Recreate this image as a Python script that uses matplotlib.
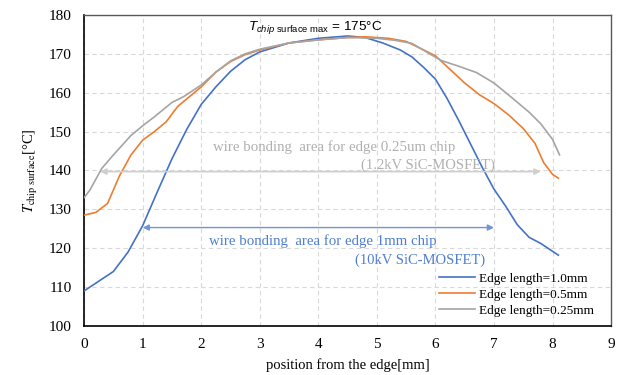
import matplotlib
matplotlib.use('Agg')
import matplotlib.pyplot as plt

# temperature profiles along the chip
x_10 = [0, 0.25, 0.5, 0.75, 1.0, 1.25, 1.5, 1.75, 2.0, 2.25, 2.5, 2.75, 3.0, 3.5, 4.0, 4.5,
        4.8, 5.1, 5.4, 5.6, 5.8, 6.0, 6.2, 6.4, 6.6, 6.8, 7.0, 7.2, 7.4, 7.6, 7.8, 8.1]
t_10 = [109, 111.5, 114, 119, 125.8, 134.5, 143, 150.5, 157, 161.5, 165.5, 168.5, 170.5, 172.8,
        174, 174.6, 174.2, 172.8, 171, 169.2, 166.5, 163.5, 158.5, 152.8, 146.8, 140.8, 135.2,
        130.8, 126, 122.8, 121.2, 118.2]

x_05 = [0, 0.2, 0.4, 0.6, 0.8, 1.0, 1.2, 1.4, 1.6, 1.8, 2.0, 2.25, 2.5, 2.75, 3.0, 3.5, 4.0,
        4.5, 4.8, 5.2, 5.5, 5.8, 6.0, 6.25, 6.5, 6.75, 7.0, 7.25, 7.5, 7.7, 7.85, 8.0, 8.1]
t_05 = [128.5, 129.2, 131.5, 138.5, 144, 147.8, 150, 152.5, 156.5, 159, 161.5, 165.3, 168,
        169.8, 171, 172.8, 173.6, 174.2, 174.4, 174, 173.2, 171, 169.5, 166, 162.5, 159.5,
        157.2, 154.3, 150.8, 147, 142, 139, 138]

x_025 = [0, 0.1, 0.3, 0.5, 0.8, 1.0, 1.2, 1.5, 1.7, 2.0, 2.25, 2.5, 2.75, 3.0, 3.5, 4.0, 4.5,
         5.0, 5.3, 5.6, 5.9, 6.1, 6.4, 6.7, 7.0, 7.3, 7.6, 7.8, 8.0, 8.12]
t_025 = [133, 135, 140.5, 144, 149, 151.5, 153.8, 157.5, 159, 162, 165.3, 168.2, 170, 171.2,
         172.8, 173.6, 174.2, 174, 173.5, 172.7, 170, 168.3, 166.8, 165.2, 162.5, 158.8, 155,
         152, 148, 144]

labels = ['Edge length=1.0mm', 'Edge length=0.5mm', 'Edge length=0.25mm']
colors = ['#4472C4', '#ED7D31', '#A5A5A5']

# wire bonding areas (start, end, y level)
area_025 = (0.27, 7.8, 139.7)
area_10 = (1.0, 7.0, 125.3)

plt.rcParams['font.family'] = ['Liberation Serif', 'DejaVu Serif']
plt.rcParams['mathtext.rm'] = 'Liberation Sans'
plt.rcParams['mathtext.it'] = 'Liberation Sans:italic'

fig = plt.figure(figsize=(6.28, 3.75), dpi=100)
ax = fig.add_axes([0.134, 0.131, 0.839, 0.829])

for xs, ts, lab, c in zip([x_10, x_05, x_025], [t_10, t_05, t_025], labels, colors):
    ax.plot(xs, ts, color=c, lw=1.2, label=lab, zorder=3)

ax.set_xlim(0, 9)
ax.set_ylim(100, 180)
ax.set_xticks(range(0, 10))
ax.set_yticks(range(100, 181, 10))
ax.tick_params(labelsize=11, length=0)
ax.tick_params(axis='y', pad=9)
ax.tick_params(axis='x', pad=9)
ax.grid(True, ls=(0, (4, 3)), color='#d9d9d9', lw=0.8)
ax.set_axisbelow(True)
for s in ['left', 'bottom']:
    ax.spines[s].set_color('black')
    ax.spines[s].set_linewidth(1.2)
for s in ['top', 'right']:
    ax.spines[s].set_color('#595959')
    ax.spines[s].set_linewidth(1.0)

ax.set_xlabel('position from the edge[mm]', fontsize=10.5, labelpad=5)
ax.set_ylabel(r'$T_{\rm chip\ surface}$[°C]', fontsize=10.5, math_fontfamily='stix', labelpad=6)

# wire bonding arrows
ax.annotate('', xy=(area_025[0], area_025[2]), xytext=(area_025[1], area_025[2]),
            arrowprops=dict(arrowstyle='<|-|>', color='#cfcfcf', lw=1.2, mutation_scale=9,
                            shrinkA=0, shrinkB=0))
ax.annotate('', xy=(area_10[0], area_10[2]), xytext=(area_10[1], area_10[2]),
            arrowprops=dict(arrowstyle='<|-|>', color='#6f95d8', lw=1.0, mutation_scale=9,
                            shrinkA=0, shrinkB=0))

ax.text(2.2, 146, 'wire bonding  area for edge 0.25um chip', color='#b0b0b0', fontsize=10.7,
        va='center')
ax.text(4.73, 141.4, '(1.2kV SiC-MOSFET)', color='#b0b0b0', fontsize=10.5, va='center')
ax.text(2.13, 121.7, 'wire bonding  area for edge 1mm chip', color='#4f7fd0', fontsize=10.7,
        va='center')
ax.text(4.62, 117.0, '(10kV SiC-MOSFET)', color='#4f7fd0', fontsize=10.5, va='center')

ax.text(2.8, 176.8, r'$T_{chip\ \mathrm{surface\ max}}$ = 175°C', fontsize=9.7,
        family=['Liberation Sans', 'DejaVu Sans'], math_fontfamily='custom', va='center')

ax.legend(loc='lower right', frameon=False, fontsize=9.5, handlelength=2.7,
          handletextpad=0.3, labelspacing=0.28, borderaxespad=0.3,
          bbox_to_anchor=(0.985, 0.0))

fig.savefig('out.png', dpi=100)
